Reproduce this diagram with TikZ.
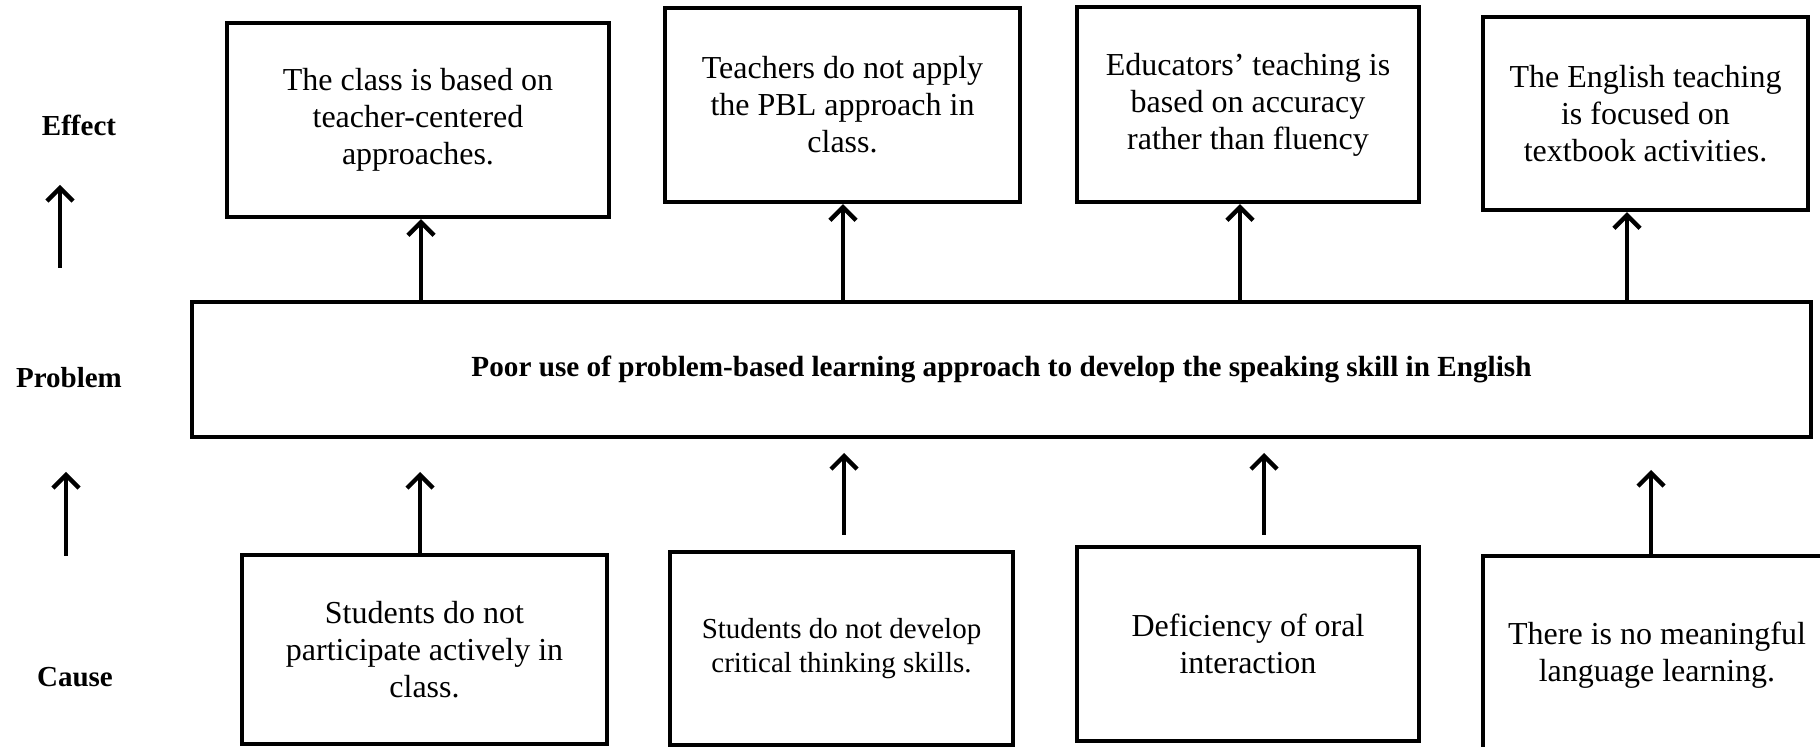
\documentclass[tikz,border=0pt]{standalone}
\usepackage{fontspec}
\setmainfont{Liberation Serif}
\usetikzlibrary{arrows.meta, positioning}

\begin{document}
\begin{tikzpicture}[x=0.5pt, y=-0.5pt,
        box/.style={draw, line width=2.2pt, align=center, inner sep=2pt, font=\fontsize{16}{18.5}\selectfont},
        arr/.style={line width=2.2pt, -{Straight Barb[length=6.5pt, width=13pt]}},
        lbl/.style={font=\fontsize{14.5}{17}\selectfont\bfseries}]
        \useasboundingbox (0,0) rectangle (1820,747);

        % Row labels
        \node[lbl] (effect) at (79,125) {Effect};
        \node[lbl] (problem) at (69,378) {Problem};
        \node[lbl] (cause) at (75,677) {Cause};

        % Side arrows
        \coordinate (s1a) at (60,268);
        \coordinate (s1b) at (60,185);
        \coordinate (s2a) at (66,556);
        \coordinate (s2b) at (66,472);
        \draw[arr] (s1a) -- (s1b);
        \draw[arr] (s2a) -- (s2b);

        % Problem
        \node[box, minimum width=809.5pt, minimum height=67.5pt, font=\fontsize{14.6}{17}\selectfont\bfseries] (prob) at (1001.5,369.5)
            {Poor use of problem-based learning approach to develop the speaking skill in English};

        % Effects
        \node[box, minimum width=191pt, minimum height=97pt] (e1) at (418,120)
            {The class is based on\\teacher-centered\\approaches.};
        \node[box, minimum width=177.5pt, minimum height=97pt] (e2) at (842.5,105)
            {Teachers do not apply\\the PBL approach in\\class.};
        \node[box, minimum width=171pt, minimum height=97.5pt] (e3) at (1248,104.5)
            {Educators’ teaching is\\based on accuracy\\rather than fluency};
        \node[box, minimum width=162.5pt, minimum height=96.5pt] (e4) at (1645.5,113.5)
            {The English teaching\\is focused on\\textbook activities.};

        % Causes
        \node[box, minimum width=182.5pt, minimum height=94.5pt] (c1) at (424.5,649.5)
            {Students do not\\participate actively in\\class.};
        \node[box, minimum width=171.5pt, minimum height=96.5pt, font=\fontsize{14.5}{16.7}\selectfont] (c2) at (841.5,648.5)
            {Students do not develop\\critical thinking skills.};
        \node[box, minimum width=171pt, minimum height=97pt] (c3) at (1248,644)
            {Deficiency of oral\\interaction};
        \node[box, minimum width=174pt, minimum height=99pt] (c4) at (1657,655)
            {There is no meaningful\\language learning.};

        % Problem -> effects
        \coordinate (t1) at (421,0);
        \coordinate (t2) at (843,0);
        \coordinate (t3) at (1240,0);
        \coordinate (t4) at (1627,0);
        \draw[arr] (t1 |- prob.north) -- (t1 |- e1.south);
        \draw[arr] (t2 |- prob.north) -- (t2 |- e2.south);
        \draw[arr] (t3 |- prob.north) -- (t3 |- e3.south);
        \draw[arr] (t4 |- prob.north) -- (t4 |- e4.south);

        % Causes -> problem
        \coordinate (b1) at (420,472);
        \coordinate (b2) at (844,453);
        \coordinate (b3) at (1264,453);
        \coordinate (b4) at (1651,470);
        \draw[arr] (b1 |- c1.north) -- (b1);
        \draw[arr, shorten <=7.5pt] (b2 |- c2.north) -- (b2);
        \draw[arr, shorten <=5pt] (b3 |- c3.north) -- (b3);
        \draw[arr] (b4 |- c4.north) -- (b4);
\end{tikzpicture}
\end{document}
